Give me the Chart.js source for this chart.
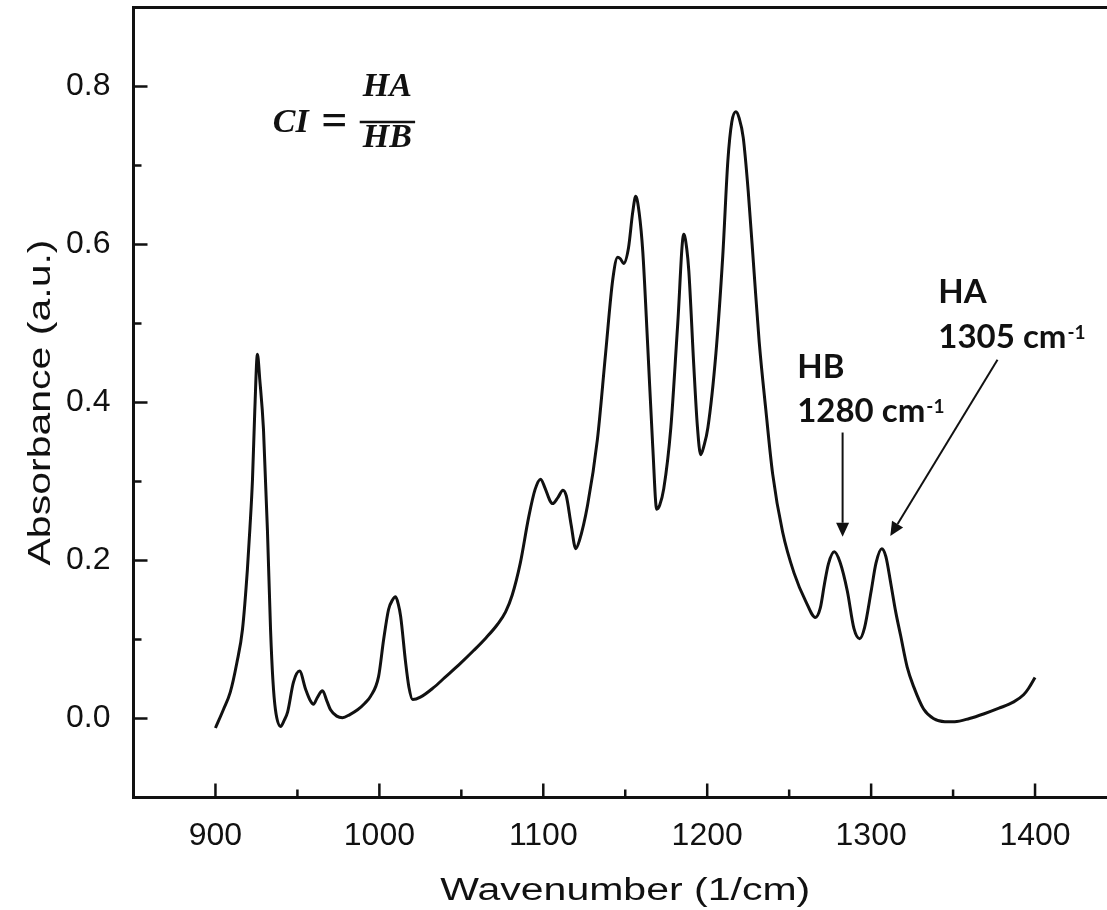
<!DOCTYPE html>
<html>
<head>
<meta charset="utf-8">
<title>FTIR absorbance</title>
<script src="https://cdn.jsdelivr.net/npm/chart.js@4.4.1/dist/chart.umd.min.js"></script>
<style>
    html, body { margin: 0; padding: 0; background: #fff; overflow: hidden; }
    #wrap { width: 1122px; height: 910px; }
</style>
</head>
<body>
<div id="wrap"><canvas id="ftirChart" width="1122" height="910"></canvas></div>
<script>
// Spectrum
const wavenumber = [
    900, 905, 909, 913, 916.5, 919.5, 921, 922.6, 924, 925.6, 927, 929.3, 931.7, 933.6, 935, 936.6,
    939.7, 942, 944, 947.6, 951.3, 955, 958, 959.8, 962, 965.3, 968, 970.2, 974, 977.5, 982, 986.7,
    991, 994.6, 999.5, 1002.6, 1005.6, 1008, 1009.9, 1011.5, 1013, 1016, 1018, 1020.3, 1025, 1033,
    1040, 1049.6, 1057.5, 1065, 1072, 1077, 1081, 1086, 1091, 1095, 1098.4, 1101, 1104, 1105.7,
    1109, 1112, 1114, 1117, 1119.8, 1122, 1127, 1133, 1138, 1142.4, 1145.4, 1147, 1149, 1152,
    1154.5, 1156.4, 1158.5, 1160.7, 1163.7, 1166.8, 1169.2, 1171, 1173.5, 1177.8, 1182, 1185.7,
    1187.5, 1188.8, 1191.8, 1194, 1196, 1198, 1200.4, 1205.3, 1209.5, 1212.6, 1215, 1217.5, 1219.5,
    1222, 1225, 1228.6, 1231.7, 1235.8, 1239.9, 1246, 1253, 1260.2, 1266, 1269, 1271.5, 1274,
    1277.5, 1281, 1285.5, 1289.5, 1293, 1296, 1300, 1303, 1306.5, 1309, 1312, 1315, 1318, 1322,
    1326, 1332, 1338, 1345, 1351, 1360, 1369, 1378, 1387, 1393, 1396, 1400
];
const absorbance = [
    -0.012, 0.012, 0.033, 0.070, 0.113, 0.189, 0.240, 0.303, 0.390, 0.461, 0.430, 0.366, 0.239, 0.113, 0.050, 0.011,
    -0.010, -0.002, 0.008, 0.046, 0.060, 0.037, 0.022, 0.018, 0.026, 0.035, 0.022, 0.011, 0.003, 0.001, 0.005, 0.011,
    0.019, 0.028, 0.053, 0.100, 0.138, 0.150, 0.154, 0.145, 0.129, 0.071, 0.040, 0.024, 0.027, 0.039,
    0.052, 0.070, 0.086, 0.102, 0.119, 0.135, 0.156, 0.197, 0.254, 0.290, 0.303, 0.292, 0.276, 0.272,
    0.280, 0.289, 0.282, 0.245, 0.215, 0.225, 0.270, 0.353, 0.462, 0.556, 0.584, 0.582, 0.576, 0.596,
    0.640, 0.661, 0.640, 0.591, 0.472, 0.343, 0.265, 0.270, 0.291, 0.368, 0.499, 0.613,
    0.595, 0.566, 0.447, 0.370, 0.334, 0.345, 0.368, 0.462, 0.586, 0.706, 0.755, 0.768, 0.760,
    0.735, 0.668, 0.565, 0.477, 0.390, 0.310, 0.236, 0.184, 0.148, 0.128, 0.140, 0.170, 0.196,
    0.211, 0.198, 0.161, 0.114, 0.101, 0.115, 0.161, 0.197, 0.215, 0.205, 0.171, 0.135, 0.105, 0.065,
    0.040, 0.012, 0.000, -0.004, -0.004, 0.000, 0.006, 0.013, 0.021, 0.030, 0.038, 0.052
];

// Axis ticks
const xTicks = [900, 1000, 1100, 1200, 1300, 1400];
const xMinorTicks = [950, 1050, 1150, 1250, 1350];
const yTicks = [0.0, 0.2, 0.4, 0.6, 0.8];
const yMinorTicks = [0.1, 0.3, 0.5, 0.7];

const INK = '#111';

// Frame, inward ticks, axis titles and the annotations
const frameAndNotes = {
    id: 'frameAndNotes',
    afterDraw(chart) {
        const { ctx, chartArea: area, scales: { x, y } } = chart;
        const px = v => x.getPixelForValue(v);
        const py = v => y.getPixelForValue(v);

        ctx.save();
        ctx.strokeStyle = INK;
        ctx.fillStyle = INK;
        ctx.lineCap = 'butt';

        // frame: left, bottom and top (right edge falls outside the picture)
        ctx.lineWidth = 3;
        ctx.beginPath();
        ctx.moveTo(area.left, area.top);
        ctx.lineTo(area.right + 10, area.top);
        ctx.moveTo(area.left, area.top - 1.5);
        ctx.lineTo(area.left, area.bottom + 1.5);
        ctx.moveTo(area.left - 1.5, area.bottom);
        ctx.lineTo(area.right + 10, area.bottom);
        ctx.stroke();

        // ticks pointing into the plot
        ctx.lineWidth = 2.5;
        ctx.beginPath();
        xTicks.forEach(t => { ctx.moveTo(px(t), area.bottom); ctx.lineTo(px(t), area.bottom - 14); });
        xMinorTicks.forEach(t => { ctx.moveTo(px(t), area.bottom); ctx.lineTo(px(t), area.bottom - 8); });
        yTicks.forEach(t => { ctx.moveTo(area.left, py(t)); ctx.lineTo(area.left + 14, py(t)); });
        yMinorTicks.forEach(t => { ctx.moveTo(area.left, py(t)); ctx.lineTo(area.left + 8, py(t)); });
        ctx.stroke();

        // axis titles (the originals are drawn wide)
        ctx.font = '31px "Liberation Sans", Arial, sans-serif';
        ctx.textAlign = 'center';
        ctx.textBaseline = 'alphabetic';
        const xTitle = 'Wavenumber (1/cm)';
        const xs = 370 / ctx.measureText(xTitle).width;
        ctx.save();
        ctx.translate((area.left + area.right) / 2, 900);
        ctx.scale(xs, 1);
        ctx.fillText(xTitle, 0, 0);
        ctx.restore();

        const yTitle = 'Absorbance (a.u.)';
        const ys = 326 / ctx.measureText(yTitle).width;
        ctx.save();
        ctx.translate(50, (area.top + area.bottom) / 2);
        ctx.rotate(-Math.PI / 2);
        ctx.scale(ys, 1);
        ctx.fillText(yTitle, 0, 0);
        ctx.restore();

        // CI = HA / HB
        const mathFont = '"Liberation Serif", "DejaVu Serif", serif';
        ctx.font = 'italic bold 34px ' + mathFont;
        ctx.textAlign = 'left';
        ctx.fillText('CI', px(935), py(0.742));
        ctx.textAlign = 'center';
        ctx.font = 'bold 46px ' + mathFont;
        ctx.fillText('=', px(972.6), py(0.738));
        ctx.font = 'italic bold 34px ' + mathFont;
        ctx.fillText('HA', px(1004.9), py(0.7886));
        ctx.fillText('HB', px(1004.9), py(0.7234));
        ctx.lineWidth = 2.5;
        ctx.beginPath();
        ctx.moveTo(px(988), py(0.755));
        ctx.lineTo(px(1021.8), py(0.755));
        ctx.stroke();

        // peak labels
        const label = (head, num, w, v1, v2) => {
            ctx.textAlign = 'left';
            ctx.font = 'bold 33px Lato, "Open Sans", sans-serif';
            ctx.fillText(head, px(w), py(v1));
            const line = num + ' cm';
            ctx.fillText(line, px(w), py(v2));
            const lw = ctx.measureText(line).width;
            ctx.font = 'bold 19px Lato, "Open Sans", sans-serif';
            ctx.fillText('-1', px(w) + lw + 1, py(v2) - 9);
        };
        label('HB', '1280', 1254.9, 0.431, 0.3753);
        label('HA', '1305', 1341.0, 0.526, 0.469);

        // arrows
        const arrow = (w1, v1, w2, v2) => {
            const x1 = px(w1), y1 = py(v1), x2 = px(w2), y2 = py(v2);
            const a = Math.atan2(y2 - y1, x2 - x1);
            const len = 14, half = 6.5;
            const bx = x2 - len * Math.cos(a), by = y2 - len * Math.sin(a);
            ctx.lineWidth = 2;
            ctx.beginPath();
            ctx.moveTo(x1, y1);
            ctx.lineTo(bx, by);
            ctx.stroke();
            ctx.beginPath();
            ctx.moveTo(x2, y2);
            ctx.lineTo(bx + half * Math.sin(a), by - half * Math.cos(a));
            ctx.lineTo(bx - half * Math.sin(a), by + half * Math.cos(a));
            ctx.closePath();
            ctx.fill();
        };
        arrow(1282.6, 0.362, 1282.6, 0.230);
        arrow(1377.1, 0.454, 1311.7, 0.231);

        ctx.restore();
    }
};

const tickFont = { family: '"Liberation Sans", Arial, sans-serif', size: 32 };

new Chart(document.getElementById('ftirChart'), {
    type: 'line',
    data: {
        datasets: [{
            label: 'Absorbance',
            data: wavenumber.map((w, i) => ({ x: w, y: absorbance[i] })),
            borderColor: INK,
            borderWidth: 3,
            pointRadius: 0,
            fill: false,
            cubicInterpolationMode: 'monotone'
        }]
    },
    options: {
        responsive: false,
        animation: false,
        devicePixelRatio: 1,
        layout: { padding: { left: 0, top: 7.5, right: 5, bottom: 0 } },
        plugins: {
            legend: { display: false },
            tooltip: { enabled: false }
        },
        scales: {
            x: {
                type: 'linear',
                min: 850,
                max: 1450,
                afterBuildTicks: scale => { scale.ticks = xTicks.map(v => ({ value: v })); },
                afterFit: scale => {
                    scale.height = 112.5;
                    scale.paddingLeft = 0;
                    scale.paddingRight = 0;
                },
                grid: { display: false },
                border: { display: false },
                ticks: {
                    font: tickFont,
                    color: INK,
                    padding: 11,
                    maxRotation: 0,
                    callback: v => String(v)
                }
            },
            y: {
                min: -0.1,
                max: 0.9,
                afterBuildTicks: scale => { scale.ticks = yTicks.map(v => ({ value: v })); },
                afterFit: scale => {
                    scale.width = 133.5;
                    scale.paddingTop = 0;
                    scale.paddingBottom = 0;
                },
                grid: { display: false },
                border: { display: false },
                ticks: {
                    font: tickFont,
                    color: INK,
                    padding: 15,
                    callback: v => Number(v).toFixed(1)
                }
            }
        }
    },
    plugins: [frameAndNotes]
});
</script>
</body>
</html>
